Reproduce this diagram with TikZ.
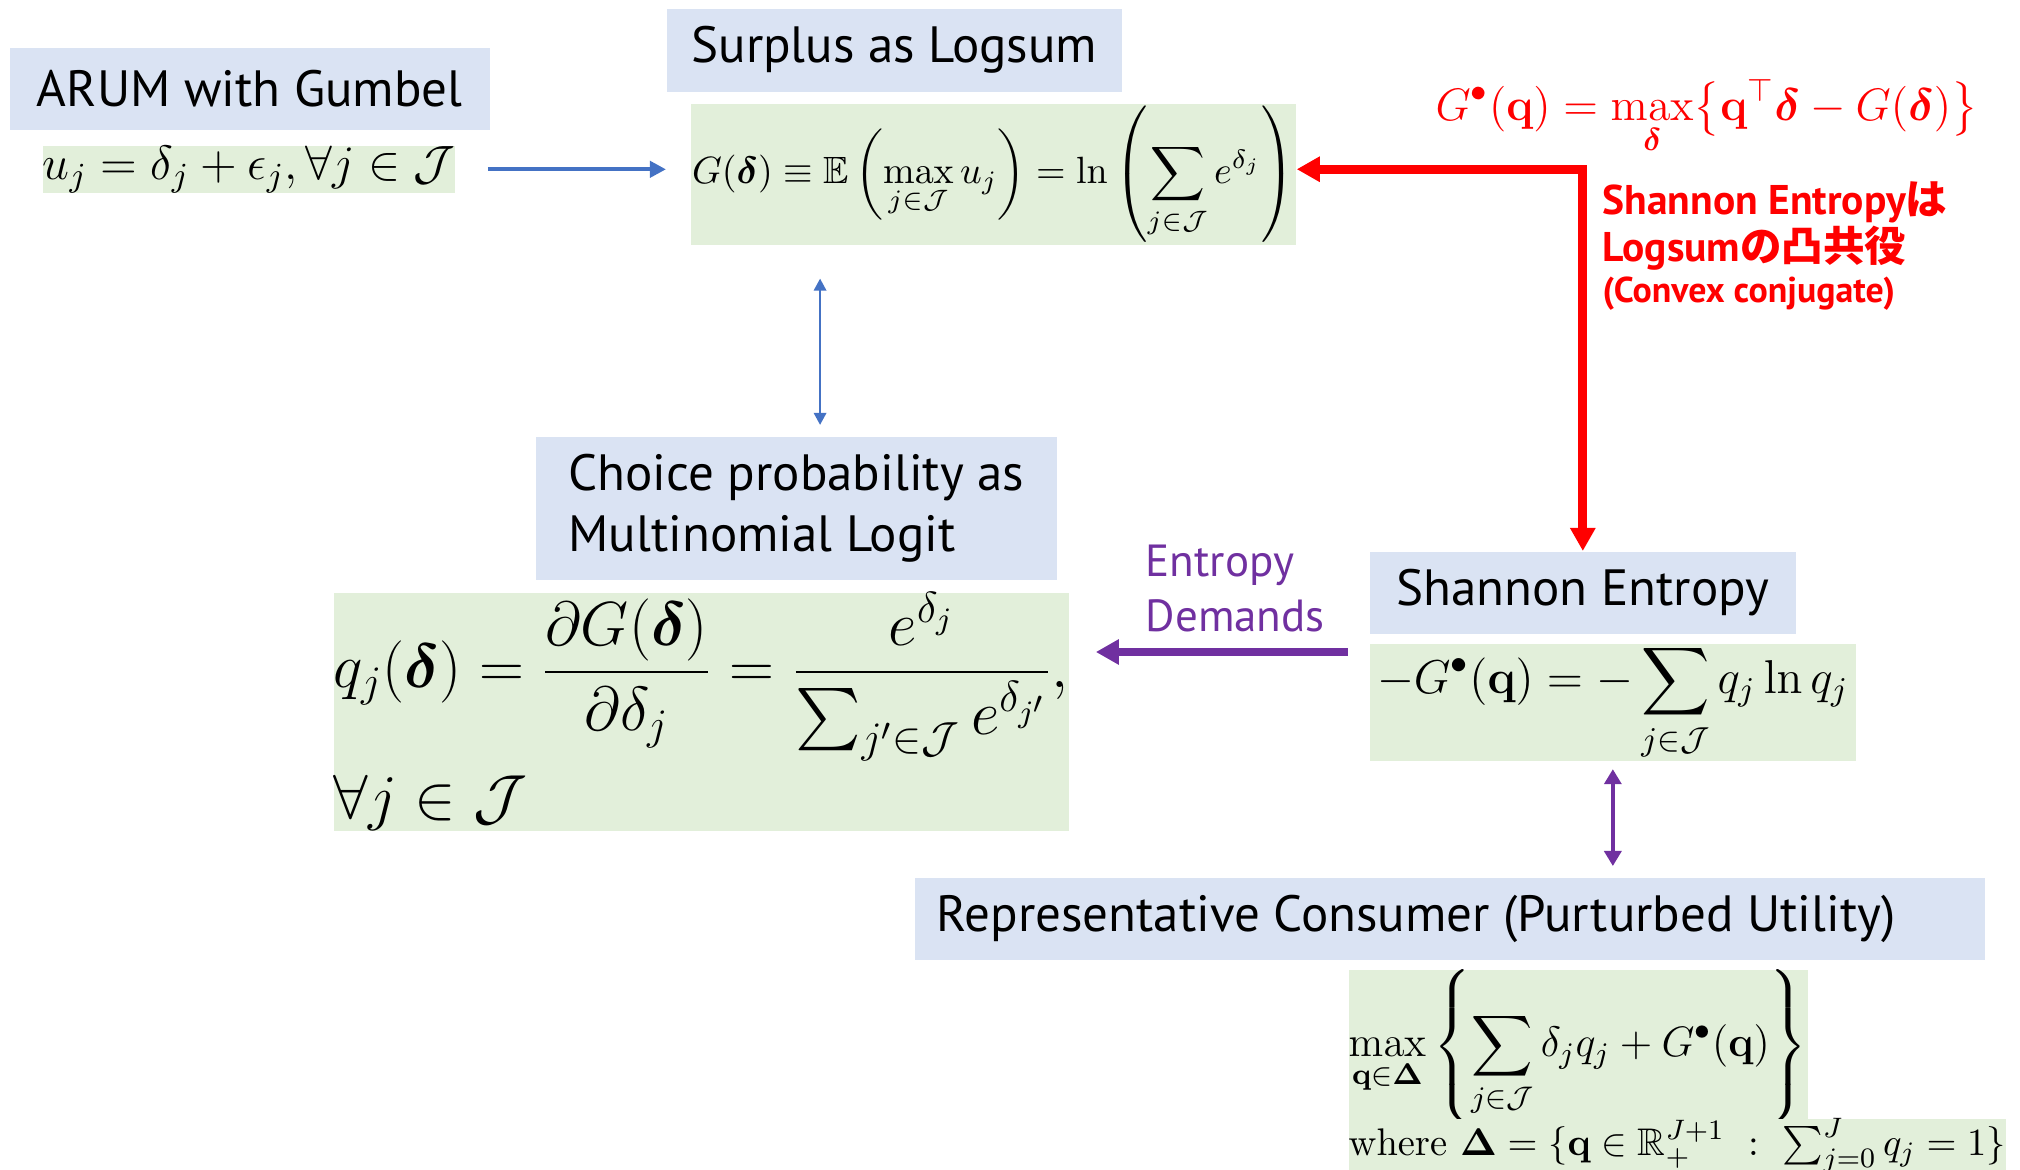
\RequirePackage{fix-cm}
\documentclass[tikz,border=0pt]{standalone}
\usepackage{amsmath,amssymb}
\usepackage[no-math]{fontspec}
\newfontfamily\titlefont{PT Sans}
\newfontfamily\jpfont{Noto Sans CJK JP}
\usetikzlibrary{arrows.meta}
\definecolor{titleblue}{RGB}{218, 227, 243}
\definecolor{formulagreen}{RGB}{226, 239, 218}
\definecolor{arrowblue}{RGB}{68, 114, 196}
\definecolor{entropypurple}{RGB}{112, 48, 160}
\definecolor{conjugatered}{RGB}{255, 0, 0}

\begin{document}
\begin{tikzpicture}[x=0.01cm, y=-0.01cm,
    titlebox/.style={fill=titleblue, anchor=north west, inner sep=0pt, align=left,
                     font=\titlefont\fontsize{14.5}{17.6}\selectfont},
    eqbox/.style={fill=formulagreen, anchor=north west, inner sep=0pt,
                  font=\fontsize{#1}{#1}\selectfont},
    bluearrow/.style={draw=arrowblue, line width=1.1pt, -{Triangle[length=0.16cm, width=0.16cm]}},
    bluelink/.style={draw=arrowblue, line width=0.8pt, {Triangle[length=0.12cm, width=0.12cm]}-{Triangle[length=0.12cm, width=0.12cm]}},
    purplearrow/.style={draw=entropypurple, line width=2.5pt, -{Triangle[length=0.23cm, width=0.24cm]}},
    purplelink/.style={draw=entropypurple, line width=1pt, {Triangle[length=0.15cm, width=0.17cm]}-{Triangle[length=0.15cm, width=0.17cm]}},
    redarrow/.style={draw=conjugatered, line width=2.5pt, {Triangle[length=0.23cm, width=0.24cm]}-{Triangle[length=0.23cm, width=0.24cm]}}
]
    \useasboundingbox (0,0) rectangle (2020,1170);

    % title boxes
    \node[titlebox, minimum width=4.8cm, minimum height=0.82cm] (arumtitle) at (9,47) {ARUM with Gumbel};
    \node[titlebox, minimum width=4.55cm, minimum height=0.83cm] (surplustitle) at (666,8) {Surplus as Logsum};
    \node[titlebox, minimum width=5.21cm, minimum height=1.43cm] (choicetitle) at (535,436) {Choice probability as\\Multinomial Logit};
    \node[titlebox, minimum width=4.26cm, minimum height=0.82cm] (shannontitle) at (1369,551) {Shannon Entropy};
    \node[titlebox, align=flush left, inner xsep=0.22cm, text width=10.26cm, minimum height=0.82cm] (reptitle) at (914,877) {Representative Consumer (Purturbed Utility)};

    % formulas
    \node[eqbox=13.7, minimum width=4.09cm, minimum height=0.47cm] (arumeq) at (42,145)
        {$u_j = \delta_j + \epsilon_j, \forall j \in \mathcal{J}$};
    \node[eqbox=10.8, minimum width=6.05cm, minimum height=1.41cm] (surpluseq) at (690,103)
        {$\displaystyle G(\boldsymbol{\delta}) \equiv \mathbb{E}\left(\max_{j\in\mathcal{J}} u_j\right) = \ln\left(\sum_{j\in\mathcal{J}} e^{\delta_j}\right)$};
    \node[eqbox=17.7, align=left, minimum width=7.35cm, minimum height=2.36cm] (choiceeq) at (333,592)
        {$\displaystyle q_j(\boldsymbol{\delta}) = \frac{\partial G(\boldsymbol{\delta})}{\partial \delta_j} = \frac{e^{\delta_j}}{\sum_{j'\in\mathcal{J}} e^{\delta_{j'}}},$\\[3pt]
         $\forall j \in \mathcal{J}$};
    \node[eqbox=13.5, minimum width=4.86cm, minimum height=1.1cm] (shannoneq) at (1369,643)
        {$\displaystyle -G^{\bullet}(\mathbf{q}) = -\sum_{j\in\mathcal{J}} q_j \ln q_j$};
    \node[eqbox=12.1, minimum width=4.58cm, minimum height=1.49cm] (repmax) at (1348,969)
        {$\displaystyle \max_{\mathbf{q}\in\boldsymbol{\Delta}}\left\{\sum_{j\in\mathcal{J}} \delta_j q_j + G^{\bullet}(\mathbf{q})\right\}$};
    \node[eqbox=10.95, minimum width=6.51cm, minimum height=0.52cm] (repwhere) at (1348,1118)
        {$\mathrm{where}\ \boldsymbol{\Delta} = \{\mathbf{q}\in\mathbb{R}_+^{J+1}\ :\ \sum_{j=0}^{J} q_j = 1\}$};

    % convex conjugate note
    \node[anchor=north west, inner sep=0pt, text=conjugatered, font=\fontsize{12.95}{12.95}\selectfont] (conjeq) at (1435,79)
        {$\displaystyle G^{\bullet}(\mathbf{q}) = \max_{\boldsymbol{\delta}}\bigl\{\mathbf{q}^{\top}\boldsymbol{\delta} - G(\boldsymbol{\delta})\bigr\}$};
    \node[anchor=north west, inner sep=0pt, align=left, text=conjugatered,
          font=\titlefont\bfseries\fontsize{11.8}{11.5}\selectfont] (conjnote) at (1602,181)
        {Shannon Entropy{\jpfont は}\\Logsum{\jpfont の凸共役}\\{\fontsize{10.2}{11.5}\selectfont (Convex conjugate)}};
    \node[anchor=north west, inner sep=0pt, align=left, text=entropypurple,
          font=\titlefont\fontsize{12.8}{15.6}\selectfont] (demandlabel) at (1145,544) {Entropy\\Demands};

    % connectors
    \draw[bluearrow, shorten <=0.32cm, shorten >=0.24cm] (arumeq.east) -- (arumeq.east -| surpluseq.west);
    \draw[bluelink, shorten <=0.33cm, shorten >=0.11cm] ([xshift=1.3cm]surpluseq.south west) -- ([xshift=1.3cm]surpluseq.south west |- choicetitle.north);
    \draw[redarrow] (shannontitle.north) |- ([yshift=0.05cm]surpluseq.east);
    \draw[purplearrow, shorten <=0.21cm, shorten >=0.26cm] ([yshift=-0.09cm]shannoneq.north west) -- ([yshift=-0.09cm]shannoneq.north west -| choiceeq.east);
    \draw[purplelink, shorten <=0.07cm, shorten >=0.11cm] (shannoneq.south) -- (shannoneq.south |- reptitle.north);
\end{tikzpicture}
\end{document}
